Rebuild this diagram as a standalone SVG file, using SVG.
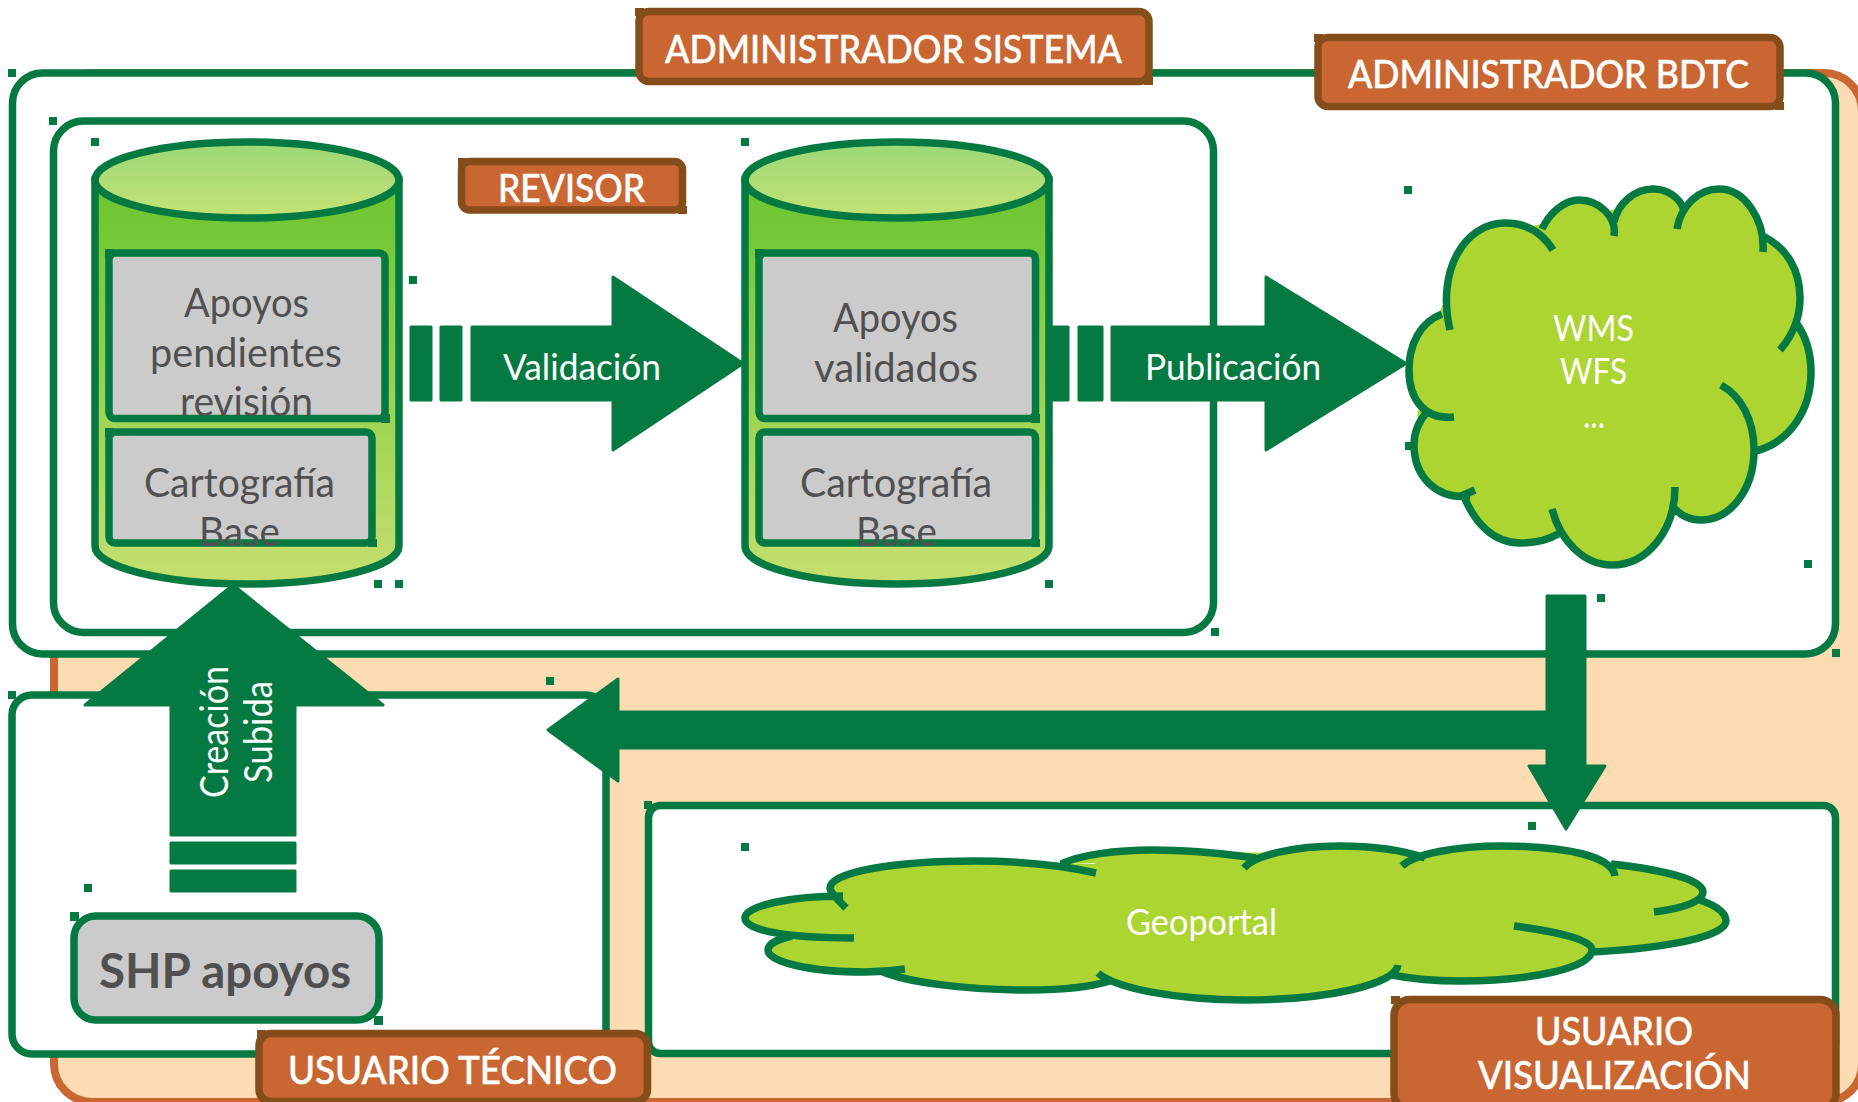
<svg xmlns="http://www.w3.org/2000/svg" width="1858" height="1102" viewBox="0 0 1858 1102">
<style>
text{font-family:"Lato","Noto Sans","Liberation Sans",sans-serif}
.box{fill:#fff;stroke:#047a42;stroke-width:7.5}
.grey{fill:#cbcbcb;stroke:#047a42;stroke-width:7.5}
.lab{fill:#c96632;stroke:#854d1a;stroke-width:7.5}
.cyl{stroke:#047a42;stroke-width:7.5}
.ar{fill:#047a42;stroke:#047a42;stroke-width:3;stroke-linejoin:round}
.g{fill:#505050;font-size:41px}
.w{fill:#fff;font-size:37px}
.wb{fill:#fff;font-size:38px;font-weight:500;stroke:#fff;stroke-width:.5}
.cl{fill:#add531;stroke:#047a42;stroke-width:7.5}
.clf{fill:#add531;stroke:#add531;stroke-width:5}
.t{fill:#047a42}
.tb{fill:#854d1a}
</style>
<defs>
<linearGradient id="body" x1="0" y1="0" x2="0" y2="1"><stop offset="0" stop-color="#6cc42f"/><stop offset=".2" stop-color="#7aca3a"/><stop offset="1" stop-color="#c6df6f"/></linearGradient>
<linearGradient id="top" x1="0" y1="0" x2="0" y2="1"><stop offset="0" stop-color="#9bd877"/><stop offset="1" stop-color="#c5e274"/></linearGradient>
</defs>

<g id="background"><rect x="54" y="73" width="1808" height="1029" rx="38" fill="#fedcb3" stroke="#c96632" stroke-width="8"/></g>
<g id="container-admin-sistema"><rect class="box" x="12.5" y="73" width="1823" height="581" rx="30"/></g>
<g id="container-revisor"><rect class="box" x="53.5" y="121" width="1160" height="511.5" rx="30"/></g>
<g id="container-usuario-tecnico"><rect class="box" x="12" y="695" width="594" height="359" rx="20"/></g>
<g id="container-usuario-visualizacion"><rect class="box" x="648.5" y="805.5" width="1187" height="248" rx="12"/></g>

<g id="connectors">
<g id="conn-validacion">
<path class="ar" d="M472 327H613V277L743 363.5L613 450V400H472Z"/>
<rect class="ar" x="411" y="327" width="20" height="73"/>
<rect class="ar" x="441" y="327" width="20" height="73"/>
</g>
<g id="conn-publicacion">
<path class="ar" d="M1112 327H1266V277L1406 363.5L1266 450V400H1112Z"/>
<rect class="ar" x="1045" y="327" width="23" height="73"/>
<rect class="ar" x="1079" y="327" width="23" height="73"/>
</g>
<g id="conn-creacion">
<path class="ar" d="M171 835V705H85L233 585L383 705H295V835Z"/>
<rect class="ar" x="171" y="843" width="124" height="20"/>
<rect class="ar" x="171" y="871" width="124" height="20"/>
</g>
<g id="conn-publicacion-usuarios">
<path class="ar" d="M1547 596H1585V766H1605L1566 829L1529 766H1547V748H618V781L548 730L618 679V712H1547Z"/>
</g>
</g>

<g id="node-bd-pendientes">
<path class="cyl" fill="url(#body)" d="M95 180V546A152 38 0 0 0 399 546V180Z"/>
<ellipse class="cyl" fill="url(#top)" cx="247" cy="180" rx="152" ry="38"/>
<rect class="grey" x="109" y="253" width="276" height="165.5" rx="6"/>
<rect class="t" x="105" y="249" width="9" height="9"/><rect class="t" x="381" y="414" width="9" height="9"/>
<text class="g" x="184" y="317" textLength="125" lengthAdjust="spacingAndGlyphs">Apoyos</text>
<text class="g" x="150" y="367" textLength="192" lengthAdjust="spacingAndGlyphs">pendientes</text>
<text class="g" x="180" y="416" textLength="133" lengthAdjust="spacingAndGlyphs">revisión</text>
<rect class="grey" x="109" y="432" width="263" height="111" rx="6"/>
<rect class="t" x="105" y="428" width="9" height="9"/><rect class="t" x="368" y="539" width="9" height="8"/>
<text class="g" x="144" y="497" textLength="191" lengthAdjust="spacingAndGlyphs">Cartografía</text>
<text class="g" x="199" y="546" textLength="81" lengthAdjust="spacingAndGlyphs">Base</text>
</g>

<g id="node-bd-validados">
<path class="cyl" fill="url(#body)" d="M745 180V546A152 38 0 0 0 1049 546V180Z"/>
<ellipse class="cyl" fill="url(#top)" cx="897" cy="180" rx="152" ry="38"/>
<rect class="grey" x="759" y="253" width="276.5" height="165.5" rx="6"/>
<rect class="t" x="755" y="249" width="9" height="9"/><rect class="t" x="1031" y="414" width="9" height="9"/>
<text class="g" x="833" y="332" textLength="125" lengthAdjust="spacingAndGlyphs">Apoyos</text>
<text class="g" x="814" y="382" textLength="164" lengthAdjust="spacingAndGlyphs">validados</text>
<rect class="grey" x="759" y="432" width="276.5" height="111" rx="6"/>
<rect class="t" x="1031" y="539" width="9" height="8"/>
<text class="g" x="800" y="497" textLength="192" lengthAdjust="spacingAndGlyphs">Cartografía</text>
<text class="g" x="856" y="546" textLength="81" lengthAdjust="spacingAndGlyphs">Base</text>
</g>

<g id="node-wms">
<path class="clf" d="M1442 314L1470 240L1545 226L1615 212L1680 205L1765 240L1790 340L1756 448L1680 500L1560 535L1465 495L1420 415Z"/>
<path class="cl" d="M1450 330C1436 270 1465 223 1505 223C1525 223 1542 232 1553 250M1542 229C1550 212 1565 200 1579 200C1600 200 1617 218 1614 236M1614 222C1618 203 1635 189 1653 189C1668 189 1680 198 1684 210M1677 229C1681 205 1699 189 1719 189C1745 189 1765 220 1763 252M1763 236C1787 248 1800 270 1800 298C1800 318 1793 335 1780 350M1797 324C1806 337 1811 352 1811 372C1811 410 1790 442 1756 451M1721 385C1741 396 1754 420 1754 450C1754 490 1730 520 1701 520C1689 520 1680 515 1673 507M1675 487C1675 530 1648 565 1612 565C1583 565 1560 540 1552 509M1558 534C1548 540 1533 543 1520 543C1495 543 1475 525 1463 494M1475 490L1459 497M1470 496C1435 500 1414 475 1414 445C1414 432 1418 422 1427 412M1454 417C1425 420 1409 400 1409 370C1409 345 1420 322 1442 314"/>
<text class="w" x="1553" y="341" textLength="81" lengthAdjust="spacingAndGlyphs">WMS</text>
<text class="w" x="1560" y="384" textLength="67" lengthAdjust="spacingAndGlyphs">WFS</text>
<text class="w" x="1583" y="428" textLength="22" lengthAdjust="spacingAndGlyphs">...</text>
</g>

<g id="node-geoportal">
<path class="clf" d="M800 938L845 905L960 868L1095 866L1115 858L1245 855L1405 856L1610 868L1655 890L1700 900L1700 925L1592 950L1395 972L1246 985L1100 978L1028 984L905 976L792 945Z"/>
<path class="cl" d="M854 938C790 938 745 931 745 918C745 906 790 896 843 896M846 908C835 897 830 892 830 888C830 872 895 861 974 861C1020 861 1065 866 1096 873M1061 864C1080 855 1115 850 1153 850C1200 850 1240 856 1256 858M1244 868C1255 855 1295 846 1339 846C1375 846 1405 851 1425 858M1402 866C1415 854 1455 846 1502 846C1565 846 1612 856 1615 876M1611 864C1665 870 1703 880 1703 892C1703 901 1685 908 1654 912M1700 900C1717 906 1726 913 1726 921C1726 936 1670 948 1592 952M1514 926C1560 932 1592 940 1592 950C1592 968 1530 981 1460 981C1435 981 1412 979 1392 975M1398 965C1395 985 1325 1000 1246 1000C1175 1000 1115 988 1098 973M1113 980C1095 986 1065 990 1028 990C965 990 905 982 881 971M905 969C885 972 875 972 865 972C810 972 768 962 768 950C768 944 778 939 792 936"/>
<text class="w" x="1126" y="935" textLength="151" lengthAdjust="spacingAndGlyphs">Geoportal</text>
</g>

<g id="node-shp">
<rect class="grey" x="74" y="916" width="305" height="104" rx="22"/>
<rect class="t" x="70" y="912" width="9" height="9"/>
<rect class="t" x="374" y="1016" width="9" height="9"/>
<text fill="#505050" font-size="47" font-weight="700" x="99" y="988" textLength="252" lengthAdjust="spacingAndGlyphs">SHP apoyos</text>
</g>

<g id="label-admin-sistema">
<rect class="lab" x="639" y="11.5" width="510" height="70" rx="10"/>
<rect class="tb" x="635" y="8" width="9" height="8"/><rect class="tb" x="1144" y="77" width="9" height="8"/>
<text class="wb" x="665" y="62.5" textLength="457" lengthAdjust="spacingAndGlyphs">ADMINISTRADOR SISTEMA</text>
</g>
<g id="label-admin-bdtc">
<rect class="lab" x="1318" y="37.5" width="462" height="69" rx="10"/>
<rect class="tb" x="1314" y="34" width="9" height="8"/><rect class="tb" x="1775" y="102" width="9" height="8"/>
<text class="wb" x="1348" y="88" textLength="401" lengthAdjust="spacingAndGlyphs">ADMINISTRADOR BDTC</text>
</g>
<g id="label-revisor">
<rect class="lab" x="461.5" y="161.5" width="221" height="48.5" rx="8"/>
<rect class="tb" x="458" y="158" width="9" height="8"/><rect class="tb" x="678" y="206" width="9" height="8"/>
<text class="wb" x="498" y="201.5" textLength="147" lengthAdjust="spacingAndGlyphs">REVISOR</text>
</g>
<g id="label-usuario-tecnico">
<rect class="lab" x="259" y="1033.5" width="388.5" height="68" rx="12"/>
<rect class="tb" x="257" y="1030" width="9" height="8"/>
<text class="wb" x="288" y="1083.5" textLength="329" lengthAdjust="spacingAndGlyphs">USUARIO TÉCNICO</text>
</g>
<g id="label-usuario-visualizacion">
<rect class="lab" x="1394" y="999.5" width="442" height="110" rx="16"/>
<rect class="tb" x="1391" y="996" width="9" height="8"/>
<text class="wb" x="1535" y="1045" textLength="158" lengthAdjust="spacingAndGlyphs">USUARIO</text>
<text class="wb" x="1478" y="1089" textLength="273" lengthAdjust="spacingAndGlyphs">VISUALIZACIÓN</text>
</g>

<g id="connector-labels">
<text class="w" x="503" y="380" textLength="158" lengthAdjust="spacingAndGlyphs">Validación</text>
<text class="w" x="1145" y="380" textLength="176" lengthAdjust="spacingAndGlyphs">Publicación</text>
<text fill="#fff" font-size="38" textLength="132" lengthAdjust="spacingAndGlyphs" transform="translate(228 798) rotate(-90)">Creación</text>
<text fill="#fff" font-size="38" textLength="102" lengthAdjust="spacingAndGlyphs" transform="translate(272 783) rotate(-90)">Subida</text>
</g>

<g id="handles" class="t">
<rect x="8" y="69" width="8" height="8"/><rect x="49" y="117" width="8" height="8"/><rect x="91" y="138" width="8" height="8"/>
<rect x="409" y="276" width="8" height="8"/><rect x="374" y="580" width="8" height="8"/><rect x="395" y="580" width="8" height="8"/>
<rect x="741" y="138" width="8" height="8"/><rect x="1404" y="186" width="8" height="8"/><rect x="1405" y="442" width="8" height="8"/>
<rect x="1045" y="580" width="8" height="8"/><rect x="1211" y="628" width="8" height="8"/><rect x="1597" y="594" width="8" height="8"/>
<rect x="1804" y="560" width="8" height="8"/><rect x="1832" y="649" width="8" height="8"/>
<rect x="8" y="691" width="8" height="8"/><rect x="84" y="884" width="8" height="8"/><rect x="546" y="677" width="8" height="8"/>
<rect x="644" y="801" width="8" height="8"/><rect x="741" y="843" width="8" height="8"/><rect x="1528" y="822" width="8" height="8"/>
</g>
</svg>
